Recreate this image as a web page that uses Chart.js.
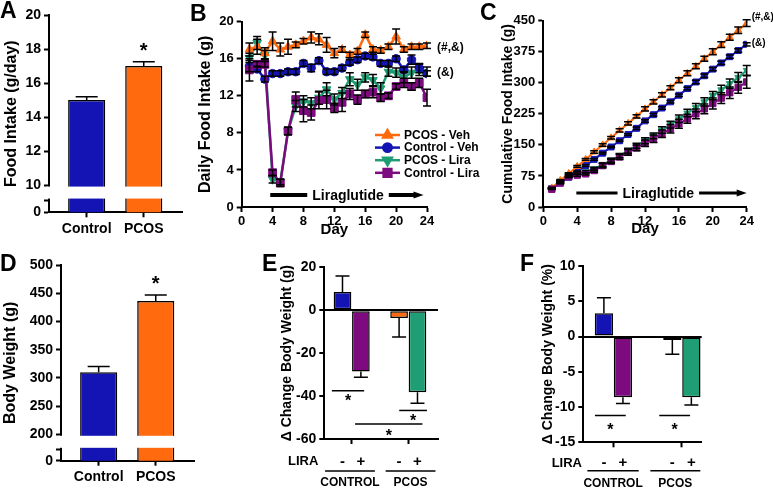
<!DOCTYPE html>
<html>
<head>
<meta charset="utf-8">
<title>Food intake and body weight</title>
<script src="https://cdn.jsdelivr.net/npm/chart.js@4.4.1/dist/chart.umd.min.js"></script>
<style>
  body { margin: 0; background: #fff; }
  #fig { position: relative; width: 773px; height: 489px; overflow: hidden; font-family: "Liberation Sans", Arial, sans-serif; }
  #fig canvas { position: absolute; }
  .letter { position: absolute; font-size: 23px; font-weight: bold; line-height: 1; }
</style>
</head>
<body>
<div id="fig">
  <canvas id="chartA" width="190" height="245" style="left:0px;top:0px"></canvas>
  <canvas id="chartB" width="290" height="240" style="left:193px;top:5px"></canvas>
  <canvas id="chartC" width="278" height="240" style="left:495px;top:5px"></canvas>
  <canvas id="chartD" width="200" height="239" style="left:0px;top:250px"></canvas>
  <canvas id="chartE" width="175" height="239" style="left:275px;top:250px"></canvas>
  <canvas id="chartF" width="237" height="239" style="left:536px;top:250px"></canvas>
  <div class="letter" style="left:0px;top:-1px">A</div>
  <div class="letter" style="left:190px;top:2px">B</div>
  <div class="letter" style="left:480px;top:1px">C</div>
  <div class="letter" style="left:0px;top:252px">D</div>
  <div class="letter" style="left:262px;top:252px">E</div>
  <div class="letter" style="left:520px;top:252px">F</div>
</div>
<script>
// panels A and D
const groups = ["Control", "PCOS"];
const foodIntake = [15.0, 17.0];
const foodIntakeSem = [0.2, 0.25];
const bodyWeight = [310, 436];
const bodyWeightSem = [10, 11];

// panels B and C (days of treatment)
const days = [1, 2, 3, 4, 5, 6, 7, 8, 9, 10, 11, 12, 13, 14, 15, 16, 17, 18, 19, 20, 21, 22, 23, 24];
const seriesNames = ["PCOS - Veh", "Control - Veh", "PCOS - Lira", "Control - Lira"];

const dailyPcosVeh = [17.0, 17.3, 16.6, 17.9, 17.0, 17.3, 17.5, 17.9, 18.3, 18.1, 17.5, 16.6, 17.0, 16.4, 16.8, 18.6, 17.0, 16.9, 17.3, 18.4, 17.0, 17.3, 17.3, 17.4];
const dailyControlVeh = [15.2, 14.9, 13.8, 14.4, 14.4, 14.6, 14.6, 15.5, 15.0, 15.8, 14.6, 14.6, 15.0, 15.6, 15.9, 16.3, 16.2, 15.5, 15.5, 16.0, 14.8, 15.9, 15.0, 14.4];
const dailyPcosLira = [16.1, 17.7, 16.4, 3.0, 2.7, 8.2, 10.9, 11.4, 11.2, 11.8, 12.7, 11.6, 12.3, 13.8, 13.2, 14.0, 13.7, 12.8, 14.6, 14.5, 14.0, 14.5, 14.8, 14.6];
const dailyControlLira = [14.8, 15.4, 15.4, 3.7, 2.6, 8.2, 11.6, 10.4, 10.2, 11.5, 11.6, 10.7, 11.3, 12.2, 11.6, 12.2, 12.4, 11.8, 12.0, 13.0, 13.4, 13.0, 13.4, 11.8];
const dailyPcosVehSem = [0.7, 0.8, 0.6, 1.0, 0.7, 0.8, 0.3, 0.3, 0.6, 0.6, 0.8, 0.5, 0.3, 0.3, 0.3, 0.3, 0.3, 0.3, 0.3, 0.8, 0.3, 0.3, 0.3, 0.3];
const dailyControlVehSem = [0.6, 0.3, 0.3, 0.3, 0.3, 0.3, 0.3, 0.3, 0.4, 0.3, 0.3, 0.3, 0.3, 0.3, 0.3, 0.3, 0.3, 0.3, 0.3, 0.3, 0.3, 0.5, 0.5, 0.3];
const dailyPcosLiraSem = [0.5, 0.7, 0.5, 0.4, 0.3, 0.4, 0.6, 0.6, 0.6, 0.7, 0.7, 0.6, 0.6, 0.7, 0.6, 0.5, 0.6, 0.6, 0.5, 0.5, 0.6, 0.6, 0.6, 0.5];
const dailyControlLiraSem = [1.2, 0.3, 0.3, 0.3, 0.4, 0.4, 0.8, 1.2, 0.8, 0.9, 1.0, 0.5, 1.0, 0.6, 0.5, 0.4, 0.6, 0.4, 0.3, 0.3, 0.5, 0.4, 0.5, 0.9];

const cumPcosVeh = [46, 64, 81, 98, 115, 133, 150, 167, 185, 202, 219, 237, 254, 271, 288, 306, 323, 340, 358, 375, 392, 410, 427, 444];
const cumControlVeh = [44, 58, 72, 86, 100, 115, 130, 145, 160, 175, 190, 208, 223, 239, 254, 270, 286, 302, 317, 333, 348, 363, 378, 393];
const cumPcosLira = [46, 63, 78, 82, 85, 92, 102, 113, 124, 136, 148, 160, 172, 186, 199, 213, 227, 240, 254, 269, 283, 298, 313, 330];
const cumControlLira = [43, 58, 73, 77, 80, 88, 100, 110, 121, 132, 143, 154, 165, 177, 189, 201, 213, 225, 237, 250, 263, 276, 289, 302];
const cumPcosVehSem = [1, 1, 2, 2, 2, 3, 3, 3, 4, 4, 4, 5, 5, 5, 5, 6, 6, 6, 6, 7, 7, 7, 8, 8];
const cumControlVehSem = [1, 1, 1, 1, 2, 2, 2, 2, 2, 2, 3, 3, 3, 3, 3, 3, 3, 4, 4, 4, 4, 4, 4, 4];
const cumPcosLiraSem = [1, 2, 2, 3, 3, 4, 4, 5, 5, 6, 6, 7, 7, 8, 8, 9, 9, 10, 10, 10, 11, 11, 12, 12];
const cumControlLiraSem = [1, 2, 2, 3, 3, 4, 5, 5, 6, 7, 7, 8, 9, 9, 10, 11, 11, 12, 12, 13, 13, 14, 14, 15];

// panels E and F: [control, pcos] for LIRA - and LIRA +
const liraStatus = ["-", "+"];
const groupsEF = ["CONTROL", "PCOS"];
const changeGVeh = [8.5, -3.6];
const changeGVehSem = [7.5, 8.9];
const changeGLira = [-28.6, -38.2];
const changeGLiraSem = [2.6, 5.1];
const changePctVeh = [3.3, -0.5];
const changePctVehSem = [2.2, 2.0];
const changePctLira = [-8.6, -8.6];
const changePctLiraSem = [0.9, 1.1];

const FONT = "'Liberation Sans', Arial, Helvetica, sans-serif";
const BLUE = "#1414B4";
const ORANGE = "#FF6A0E";
const PURPLE = "#7E0A80";
const GREEN = "#1F9D74";

Chart.defaults.font.family = FONT;
Chart.defaults.font.weight = "bold";
Chart.defaults.color = "#000";

const tickMarks = { display: true, drawOnChartArea: false, drawTicks: true, tickLength: 5, tickWidth: 2, tickColor: "#000", offset: false };
const axisBorder = { display: true, color: "#000", width: 2 };

function fixedTicks(values) {
    return (scale) => { scale.ticks = values.map((v) => ({ value: v })); };
}
function fixWidth(w) {
    return (scale) => { scale.width = w; };
}
function fixHeight(h) {
    return (scale) => { scale.height = h; };
}

function chartOptions(padding, scales) {
    return {
        responsive: false,
        animation: false,
        events: [],
        layout: { padding: padding },
        plugins: { legend: { display: false }, tooltip: { enabled: false } },
        scales: scales,
    };
}

// error bars, read from dataset.errors
const errorBars = {
    id: "errorBars",
    afterDatasetsDraw(chart) {
        const { ctx, scales: { y } } = chart;
        ctx.save();
        ctx.strokeStyle = "#000";
        ctx.lineWidth = 1.5;
        chart.data.datasets.forEach((ds, i) => {
            if (!ds.errors) return;
            chart.getDatasetMeta(i).data.forEach((el, j) => {
                const v = ds.data[j].y;
                const e = ds.errors[j];
                const ends = ds.errorBoth ? [v + e, v - e] : [v >= 0 ? v + e : v - e];
                ends.forEach((end) => {
                    const py = y.getPixelForValue(end);
                    ctx.beginPath();
                    ctx.moveTo(el.x, el.y);
                    ctx.lineTo(el.x, py);
                    ctx.moveTo(el.x - ds.capHalf, py);
                    ctx.lineTo(el.x + ds.capHalf, py);
                    ctx.stroke();
                });
            });
        });
        ctx.restore();
    },
};

// white band for the broken y axis
function breakGap(lowTop, highBottom) {
    return {
        id: "breakGap",
        afterDraw(chart) {
            const { ctx, chartArea, scales: { y } } = chart;
            const top = y.getPixelForValue(highBottom) + 1.5;
            const bottom = y.getPixelForValue(lowTop) - 1.5;
            ctx.save();
            ctx.fillStyle = "#fff";
            ctx.fillRect(chartArea.left - 2, top, chartArea.right - chartArea.left + 4, bottom - top);
            ctx.restore();
        },
    };
}

function drawStar(ctx, x, y, size) {
    ctx.font = `bold ${size}px ${FONT}`;
    ctx.textAlign = "center";
    ctx.textBaseline = "alphabetic";
    ctx.fillText("*", x, y + 0.575 * size);
}

function notes(items) {
    return {
        id: "notes",
        afterDatasetsDraw(chart) {
            const { ctx, scales: { x, y } } = chart;
            ctx.save();
            ctx.fillStyle = "#000";
            items.forEach((n) => {
                const px = x.getPixelForValue(n.x) + (n.dx || 0);
                const py = y.getPixelForValue(n.y) + (n.dy || 0);
                if (n.text === "*") {
                    drawStar(ctx, px, py, n.size);
                } else {
                    ctx.font = `bold ${n.size}px ${FONT}`;
                    ctx.textAlign = n.align || "center";
                    ctx.textBaseline = "middle";
                    ctx.fillText(n.text, px, py);
                }
            });
            ctx.restore();
        },
    };
}

function treatmentArrow(a) {
    return {
        id: "treatmentArrow",
        afterDatasetsDraw(chart) {
            const { ctx, scales: { x, y } } = chart;
            const x1 = x.getPixelForValue(a.from);
            const x2 = x.getPixelForValue(a.to);
            const xm = x.getPixelForValue(a.mid);
            const py = y.getPixelForValue(a.at);
            ctx.save();
            ctx.font = `bold ${a.size}px ${FONT}`;
            const half = ctx.measureText(a.label).width / 2;
            ctx.fillStyle = "#000";
            ctx.strokeStyle = "#000";
            ctx.lineWidth = a.width;
            ctx.textAlign = "center";
            ctx.textBaseline = "middle";
            ctx.fillText(a.label, xm, py + 1);
            ctx.beginPath();
            ctx.moveTo(x1, py);
            ctx.lineTo(xm - half - 5, py);
            ctx.moveTo(xm + half + 5, py);
            ctx.lineTo(x2 - 8, py);
            ctx.stroke();
            ctx.beginPath();
            ctx.moveTo(x2, py);
            ctx.lineTo(x2 - 10, py - 3.5);
            ctx.lineTo(x2 - 10, py + 3.5);
            ctx.closePath();
            ctx.fill();
            ctx.restore();
        },
    };
}

function lineLegend(pos) {
    return {
        id: "lineLegend",
        afterDraw(chart) {
            const { ctx, chartArea } = chart;
            const x0 = chartArea.left + pos.dx;
            ctx.save();
            chart.data.datasets.forEach((ds, i) => {
                const y0 = chartArea.top + pos.dy + i * pos.gap;
                ctx.strokeStyle = ds.borderColor;
                ctx.fillStyle = ds.borderColor;
                ctx.lineWidth = 2.5;
                ctx.beginPath();
                ctx.moveTo(x0, y0);
                ctx.lineTo(x0 + 25, y0);
                ctx.stroke();
                Chart.helpers.drawPoint(ctx, { pointStyle: ds.pointStyle, rotation: ds.pointRotation, radius: ds.pointRadius, borderWidth: 1 }, x0 + 12.5, y0);
                ctx.fillStyle = "#000";
                ctx.font = `bold 12px ${FONT}`;
                ctx.textAlign = "left";
                ctx.textBaseline = "middle";
                ctx.fillText(ds.label, x0 + 29, y0 + 0.5);
            });
            ctx.restore();
        },
    };
}

function sigLines(lines) {
    return {
        id: "sigLines",
        afterDatasetsDraw(chart) {
            const { ctx, scales: { x, y } } = chart;
            ctx.save();
            ctx.strokeStyle = "#000";
            ctx.fillStyle = "#000";
            ctx.lineWidth = 1.5;
            lines.forEach((l) => {
                const xa = x.getPixelForValue(l.x1);
                const xb = x.getPixelForValue(l.x2);
                const py = y.getPixelForValue(l.y);
                ctx.beginPath();
                ctx.moveTo(xa, py);
                ctx.lineTo(xb, py);
                ctx.stroke();
                drawStar(ctx, (xa + xb) / 2, py + l.dy, 16);
            });
            ctx.restore();
        },
    };
}

function liraRow(o) {
    return {
        id: "liraRow",
        afterDraw(chart) {
            const { ctx, chartArea, scales: { x } } = chart;
            const b = chartArea.bottom;
            ctx.save();
            ctx.fillStyle = "#000";
            ctx.strokeStyle = "#000";
            ctx.lineWidth = 1.5;
            ctx.textBaseline = "middle";
            ctx.font = `bold 13px ${FONT}`;
            ctx.textAlign = "right";
            ctx.fillText("LIRA", chartArea.left + o.liraDx, b + o.rowDy);
            ctx.textAlign = "center";
            ctx.font = `bold 15px ${FONT}`;
            chart.data.datasets.forEach((ds, i) => {
                chart.getDatasetMeta(i).data.forEach((bar) => ctx.fillText(ds.label, bar.x, b + o.rowDy));
            });
            ctx.font = `bold 12px ${FONT}`;
            groupsEF.forEach((g, k) => {
                const xa = x.getPixelForValue(o.spans[k][0]);
                const xb = x.getPixelForValue(o.spans[k][1]);
                ctx.beginPath();
                ctx.moveTo(xa, b + o.lineDy);
                ctx.lineTo(xb, b + o.lineDy);
                ctx.stroke();
                ctx.fillText(g, (xa + xb) / 2, b + o.labelDy);
            });
            ctx.restore();
        },
    };
}

function brokenBarChart(id, cfg) {
    const yTicks = [cfg.zeroAt, cfg.breakAt].concat(cfg.ticks);
    return new Chart(document.getElementById(id), {
        type: "bar",
        data: {
            datasets: [{
                data: cfg.values.map((v, i) => ({ x: i, y: v })),
                errors: cfg.sem,
                capHalf: 11,
                backgroundColor: [BLUE, ORANGE],
                borderColor: "#000",
                borderWidth: 1.5,
                categoryPercentage: 0.65,
                barPercentage: 1,
            }],
        },
        options: chartOptions(cfg.padding, {
            x: {
                type: "linear", min: -0.66, max: 1.67, offset: false,
                afterBuildTicks: fixedTicks([0, 1]),
                afterFit: fixHeight(cfg.xHeight),
                grid: { ...tickMarks }, border: axisBorder,
                ticks: { autoSkip: false, maxRotation: 0, padding: 3, font: { size: 14 }, callback: (v) => groups[v] },
            },
            y: {
                type: "linear", min: cfg.zeroAt, max: cfg.max, beginAtZero: false,
                afterBuildTicks: fixedTicks(yTicks),
                afterFit: fixWidth(cfg.yWidth),
                grid: { ...tickMarks }, border: axisBorder,
                ticks: { autoSkip: false, padding: 3, font: { size: 14 }, callback: (v) => (v === cfg.zeroAt ? "0" : v === cfg.breakAt ? "" : v) },
                title: { display: true, text: cfg.title, font: { size: 16 }, padding: { top: cfg.titlePad, bottom: 0 } },
            },
        }),
        plugins: [errorBars, notes([{ x: 1, y: cfg.star, text: "*", size: 20 }]), breakGap(cfg.breakAt, cfg.ticks[0])],
    });
}

function lineDataset(label, values, errors, color, style, rotation, radius, order, width) {
    return {
        label: label,
        data: days.map((d, i) => ({ x: d, y: values[i] })),
        borderColor: color,
        backgroundColor: color,
        borderWidth: width,
        pointStyle: style,
        pointRotation: rotation,
        pointRadius: radius,
        pointBorderWidth: 1,
        errors: errors,
        errorBoth: true,
        capHalf: 4,
        order: order,
    };
}

function dayChart(id, cfg) {
    return new Chart(document.getElementById(id), {
        type: "line",
        data: { datasets: cfg.datasets },
        options: chartOptions(cfg.padding, {
            x: {
                type: "linear", min: 0, max: 24,
                afterFit: fixHeight(38),
                grid: { ...tickMarks }, border: axisBorder,
                ticks: { stepSize: 4, autoSkip: false, maxRotation: 0, padding: 2, font: { size: 13 } },
                title: { display: true, text: "Day", font: { size: 15 }, padding: { top: 0, bottom: cfg.dayPad } },
            },
            y: {
                type: "linear", min: 0, max: cfg.max,
                afterFit: fixWidth(cfg.yWidth),
                grid: { ...tickMarks }, border: axisBorder,
                ticks: { stepSize: cfg.step, autoSkip: false, padding: 3, font: { size: 13 } },
                title: { display: true, text: cfg.title, font: { size: cfg.titleSize }, padding: { top: cfg.titlePad, bottom: 0 } },
            },
        }),
        plugins: cfg.plugins,
    });
}

function changeBarChart(id, cfg) {
    return new Chart(document.getElementById(id), {
        type: "bar",
        data: {
            datasets: liraStatus.map((s, k) => ({
                label: s,
                data: cfg.values[k].map((v, i) => ({ x: i, y: v })),
                errors: cfg.sem[k],
                capHalf: 7,
                backgroundColor: k === 0 ? [BLUE, ORANGE] : [PURPLE, GREEN],
                borderColor: "#000",
                borderWidth: 1.5,
                borderSkipped: false,
                categoryPercentage: cfg.catPct,
                barPercentage: 0.96,
            })),
        },
        options: chartOptions(cfg.padding, {
            x: {
                type: "linear", min: cfg.xMin, max: cfg.xMax, offset: false,
                afterBuildTicks: fixedTicks([0, 1]),
                afterFit: fixHeight(cfg.xHeight),
                grid: { ...tickMarks }, border: axisBorder,
                ticks: { autoSkip: false, callback: () => "" },
            },
            y: {
                type: "linear", min: cfg.min, max: cfg.max, beginAtZero: false,
                afterFit: fixWidth(cfg.yWidth),
                grid: {
                    display: true, drawOnChartArea: true, drawTicks: true, tickLength: 5, tickWidth: 2, tickColor: "#000", lineWidth: 2,
                    color: (c) => (c.tick && c.tick.value === 0 ? "#000" : "rgba(0,0,0,0)"),
                },
                border: axisBorder,
                ticks: { stepSize: cfg.step, autoSkip: false, padding: 3, font: { size: 14 } },
                title: { display: true, text: cfg.title, font: { size: 14 }, padding: { top: 4, bottom: 0 } },
            },
        }),
        plugins: [errorBars, sigLines(cfg.sig), liraRow(cfg.row)],
    });
}

const chartA = brokenBarChart("chartA", {
    values: foodIntake, sem: foodIntakeSem,
    zeroAt: 8.4, breakAt: 9.12, ticks: [10, 12, 14, 16, 18, 20], max: 20, star: 18.2,
    title: "Food Intake (g/day)", titlePad: 2,
    padding: { top: 15, right: 8, left: 0, bottom: 0 }, yWidth: 49, xHeight: 32.7,
});

const chartD = brokenBarChart("chartD", {
    values: bodyWeight, sem: bodyWeightSem,
    zeroAt: 153.2, breakAt: 173.4, ticks: [200, 250, 300, 350, 400, 450, 500], max: 500, star: 476,
    title: "Body Weight (g)", titlePad: 1,
    padding: { top: 15, right: 6, left: 0, bottom: 0 }, yWidth: 61, xHeight: 28.3,
});

const chartB = dayChart("chartB", {
    datasets: [
        lineDataset(seriesNames[0], dailyPcosVeh, dailyPcosVehSem, ORANGE, "triangle", 0, 5, 1, 2.5),
        lineDataset(seriesNames[1], dailyControlVeh, dailyControlVehSem, BLUE, "circle", 0, 4.2, 2, 2.5),
        lineDataset(seriesNames[2], dailyPcosLira, dailyPcosLiraSem, GREEN, "triangle", 180, 5, 3, 2.5),
        lineDataset(seriesNames[3], dailyControlLira, dailyControlLiraSem, PURPLE, "rect", 0, 5.5, 0, 2.5),
    ],
    max: 20, step: 4, title: "Daily Food Intake (g)", titleSize: 16, titlePad: 3, dayPad: 6,
    padding: { top: 16.7, right: 56, left: 0, bottom: 0 }, yWidth: 48.7,
    plugins: [
        errorBars,
        treatmentArrow({ from: 3.7, to: 23.55, mid: 13.77, at: 1.29, label: "Liraglutide", size: 14, width: 4 }),
        notes([
            { x: 24, y: dailyPcosVeh[23], text: "(#,&)", size: 12, dx: 10, dy: 2, align: "left" },
            { x: 24, y: dailyControlVeh[23], text: "(&)", size: 12, dx: 10, dy: -1, align: "left" },
        ]),
        lineLegend({ dx: 133.3, dy: 113.3, gap: 12.6 }),
    ],
});

const chartC = dayChart("chartC", {
    datasets: [
        lineDataset(seriesNames[0], cumPcosVeh, cumPcosVehSem, ORANGE, "triangle", 0, 4, 1, 2),
        lineDataset(seriesNames[1], cumControlVeh, cumControlVehSem, BLUE, "rect", 0, 4.2, 2, 2),
        lineDataset(seriesNames[2], cumPcosLira, cumPcosLiraSem, GREEN, "triangle", 180, 4, 3, 2),
        lineDataset(seriesNames[3], cumControlLira, cumControlLiraSem, PURPLE, "rect", 0, 4.5, 0, 2),
    ],
    max: 450, step: 75, title: "Cumulative Food Intake (g)", titleSize: 14, titlePad: 5, dayPad: 7,
    padding: { top: 15.7, right: 26.3, left: 0, bottom: 0 }, yWidth: 48.3,
    plugins: [
        errorBars,
        treatmentArrow({ from: 3.9, to: 24, mid: 13.57, at: 33.9, label: "Liraglutide", size: 14, width: 3 }),
        notes([
            { x: 24, y: cumPcosVeh[23], text: "(#,&)", size: 10, dx: 5, dy: -6, align: "left" },
            { x: 24, y: cumControlVeh[23], text: "(&)", size: 10, dx: 5, dy: -1, align: "left" },
        ]),
    ],
});

const chartE = changeBarChart("chartE", {
    values: [changeGVeh, changeGLira], sem: [changeGVehSem, changeGLiraSem],
    min: -60, max: 20, step: 20, xMin: -0.484, xMax: 1.525, catPct: 0.65,
    title: "\u0394 Change Body Weight (g)",
    padding: { top: 17.3, right: 12, left: 0, bottom: 0 }, yWidth: 49.3, xHeight: 50,
    sig: [
        { x1: -0.35, x2: 0.22, y: -37.5, dy: 6 },
        { x1: 0.84, x2: 1.33, y: -46.7, dy: 6 },
        { x1: 0.06, x2: 1.25, y: -53, dy: 7.7 },
    ],
    row: { liraDx: -6, rowDy: 22.7, lineDy: 32, labelDy: 43.5, spans: [[-0.47, 0.41], [0.6, 1.48]] },
});

const chartF = changeBarChart("chartF", {
    values: [changePctVeh, changePctLira], sem: [changePctVehSem, changePctLiraSem],
    min: -15, max: 10, step: 5, xMin: -0.44, xMax: 1.29, catPct: 0.556,
    title: "\u0394 Change Body Weight (%)",
    padding: { top: 16, right: 71.3, left: 0, bottom: 0 }, yWidth: 47.3, xHeight: 46.7,
    sig: [
        { x1: -0.27, x2: 0.18, y: -11.2, dy: 10 },
        { x1: 0.67, x2: 1.12, y: -11.2, dy: 10 },
    ],
    row: { liraDx: -1.3, rowDy: 21, lineDy: 28.4, labelDy: 41.7, spans: [[-0.38, 0.37], [0.54, 1.27]] },
});
</script>
</body>
</html>
